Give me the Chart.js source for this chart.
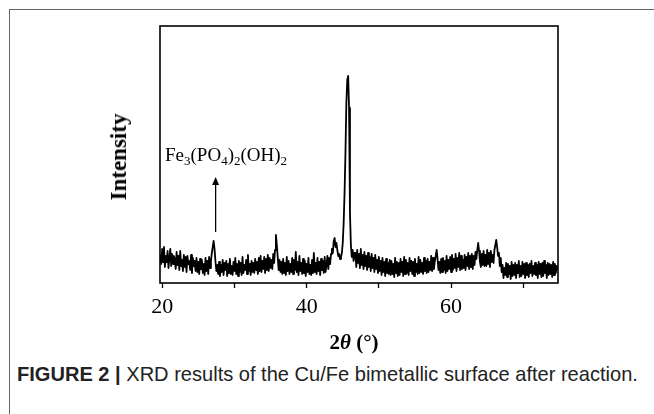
<!DOCTYPE html>
<html>
<head>
<meta charset="utf-8">
<script src="https://cdn.jsdelivr.net/npm/chart.js@4.4.1/dist/chart.umd.min.js"></script>
<style>
	body { margin: 0; background: #fff; }
	#page { position: relative; width: 654px; height: 414px; overflow: hidden; }
	#frame {
		position: absolute; left: 9px; top: 9px; width: 660px; height: 420px;
		border-top: 1px solid #666; border-left: 1px solid #666;
	}
	#wrap { position: absolute; left: 0; top: 0; width: 654px; height: 330px; }
	.serif { font-family: "Liberation Serif", "Times New Roman", serif; color: #000; position: absolute; white-space: nowrap; }
	#ytitle {
		font-weight: bold; font-size: 23px; left: 119px; top: 157px;
		transform: translate(-50%, -50%) rotate(-90deg);
	}
	#xtitle { font-weight: bold; font-size: 21px; left: 354px; top: 342px; transform: translate(-50%, -50%); }
	#phase { font-size: 19px; left: 165px; top: 144px; }
	#phase sub { font-size: 13px; vertical-align: -4px; }
	#caption {
		position: absolute; left: 17px; top: 362px; font-size: 21px; color: #222;
		font-family: "Liberation Sans", Arial, sans-serif; white-space: nowrap;
		transform: scaleX(0.955); transform-origin: left center;
	}
</style>
</head>
<body>
<div id="page">
	<div id="frame"></div>
	<div id="wrap"><canvas id="myChart" width="654" height="330"></canvas></div>
	<div id="ytitle" class="serif">Intensity</div>
	<div id="xtitle" class="serif">2<i>θ</i> (°)</div>
	<div id="phase" class="serif">Fe<sub>3</sub>(PO<sub>4</sub>)<sub>2</sub>(OH)<sub>2</sub></div>
	<div id="caption"><b>FIGURE 2 |</b> XRD results of the Cu/Fe bimetallic surface after reaction.</div>
</div>
<script>
// ***** DATA *****
// scan grid: first angle and step (degrees 2theta)
let startAngle = 19.75,
	stepAngle = 0.125

// intensity, 8 values per degree (arbitrary units)
let intensity = [
	28, 19, 34, 21, 36, 16, 27, 21, // 19.75
	32, 15, 25, 34, 17, 29, 19, 27,
	24, 14, 31, 18, 27, 13, 32, 17,
	23, 12, 28, 16, 26, 11, 27, 19,
	22, 13, 28, 10, 25, 17, 22, 12,
	25, 11, 21, 9, 24, 14, 23, 10, // 24.75
	19, 8, 25, 12, 22, 9, 26, 15,
	22, 30, 36, 42, 34, 22, 12, 18,
	9, 21, 7, 18, 11, 23, 8, 20,
	13, 22, 7, 19, 10, 24, 9, 17,
	8, 21, 12, 25, 9, 19, 7, 22, // 29.75
	11, 20, 8, 26, 10, 18, 13, 23,
	9, 28, 12, 19, 8, 22, 11, 20,
	10, 24, 13, 21, 9, 25, 12, 27,
	11, 22, 14, 26, 10, 24, 13, 28,
	12, 25, 15, 23, 14, 29, 20, 33, // 34.75
	48, 38, 26, 13, 23, 11, 21, 9,
	24, 10, 20, 8, 26, 12, 22, 9,
	19, 11, 25, 9, 23, 13, 31, 11,
	21, 8, 27, 12, 20, 9, 24, 10,
	22, 7, 19, 11, 25, 9, 18, 8, // 39.75
	23, 10, 30, 11, 20, 9, 25, 12,
	21, 8, 24, 13, 22, 10, 26, 11,
	18, 27, 14, 25, 19, 29, 34, 30,
	42, 45, 36, 40, 33, 27, 29, 24,
	26, 30, 40, 60, 90, 130, 180, 203, // 44.75
	207, 175, 70, 38, 26, 33, 22, 30,
	30, 16, 33, 20, 29, 15, 34, 18,
	28, 14, 31, 17, 27, 13, 30, 16,
	26, 12, 29, 15, 25, 11, 28, 14,
	23, 10, 26, 12, 22, 8, 25, 11, // 49.75
	21, 7, 24, 10, 20, 9, 23, 8,
	22, 9, 19, 6, 25, 10, 21, 7,
	20, 8, 24, 11, 21, 7, 26, 9,
	23, 10, 20, 8, 25, 12, 22, 9,
	21, 7, 24, 11, 19, 9, 26, 10, // 54.75
	23, 11, 20, 9, 25, 12, 22, 10,
	24, 11, 21, 13, 27, 12, 25, 14,
	22, 27, 33, 24, 13, 21, 10, 24,
	11, 25, 13, 22, 10, 27, 12, 23,
	14, 26, 11, 28, 13, 24, 15, 29, // 59.75
	12, 25, 16, 30, 13, 27, 14, 23,
	15, 28, 13, 26, 17, 30, 14, 27,
	16, 29, 14, 27, 18, 31, 24, 33,
	40, 32, 21, 16, 29, 18, 32, 17,
	28, 17, 33, 19, 30, 16, 32, 21, // 64.75
	28, 20, 33, 38, 43, 36, 27, 30,
	17, 25, 11, 18, 5, 15, 8, 20,
	6, 19, 9, 17, 4, 21, 7, 18,
	8, 20, 5, 18, 10, 22, 6, 17,
	7, 21, 9, 19, 5, 20, 8, 18, // 69.75
	6, 19, 10, 22, 7, 17, 9, 20,
	8, 18, 5, 21, 9, 19, 6, 20,
	7, 22, 10, 18, 5, 20, 8, 19,
	9, 18, 6, 21, 8, 19, 10, 17,
	13,
]

let xTicks = [20, 30, 40, 50, 60, 70],
	xLabels = ['20', '', '40', '', '60', ''],
	xRange = [19.7, 74.8],
	yRange = [0, 257]

// arrow marking the phase peak: angle, from / to intensity
let arrowAngle = 27.4,
	arrowFrom = 51,
	arrowTo = 106

let points = intensity.map((v, i) => ({ x: startAngle + i * stepAngle, y: v }))

// ***** PLUGINS *****
// box round the plot area and the arrow
let framePlugin = {
	id: 'frame',
	afterDraw(chart) {
		let c = chart.ctx,
			a = chart.chartArea,
			x = chart.scales.x,
			y = chart.scales.y
		c.save()
		c.strokeStyle = '#000'
		c.lineWidth = 1.6
		c.strokeRect(a.left, a.top, a.right - a.left, a.bottom - a.top)

		let ax = x.getPixelForValue(arrowAngle)
		let y0 = y.getPixelForValue(arrowFrom)
		let y1 = y.getPixelForValue(arrowTo)
		c.lineWidth = 1.3
		c.beginPath()
		c.moveTo(ax, y0)
		c.lineTo(ax, y1 + 6)
		c.stroke()
		c.fillStyle = '#000'
		c.beginPath()
		c.moveTo(ax, y1)
		c.lineTo(ax - 3.5, y1 + 8)
		c.lineTo(ax + 3.5, y1 + 8)
		c.closePath()
		c.fill()
		c.restore()
	},
}

// ***** CHART.JS *****
let ctx = document.getElementById('myChart').getContext('2d')
let myChart = new Chart(ctx, {
	type: 'line',
	data: {
		datasets: [
			{
				data: points,
				borderColor: '#000',
				borderWidth: 1.8,
				borderJoinStyle: 'round',
				pointRadius: 0,
				tension: 0,
			},
		],
	},
	options: {
		responsive: false,
		animation: false,
		layout: { padding: { left: 160, right: 96, top: 26, bottom: 0 } },
		plugins: { legend: { display: false }, tooltip: { enabled: false } },
		scales: {
			x: {
				type: 'linear',
				min: xRange[0],
				max: xRange[1],
				afterBuildTicks: (scale) => {
					scale.ticks = xTicks.map((v) => ({ value: v }))
				},
				afterFit: (scale) => {
					scale.height = 47
				},
				border: { display: false },
				grid: { drawOnChartArea: false, tickLength: 5, color: '#000', tickWidth: 1.3 },
				ticks: {
					autoSkip: false,
					maxRotation: 0,
					padding: 6,
					color: '#000',
					font: { family: 'Liberation Serif', size: 22 },
					callback: (v) => xLabels[xTicks.indexOf(v)],
				},
			},
			y: {
				display: false,
				min: yRange[0],
				max: yRange[1],
			},
		},
	},
	plugins: [framePlugin],
})
</script>
</body>
</html>
